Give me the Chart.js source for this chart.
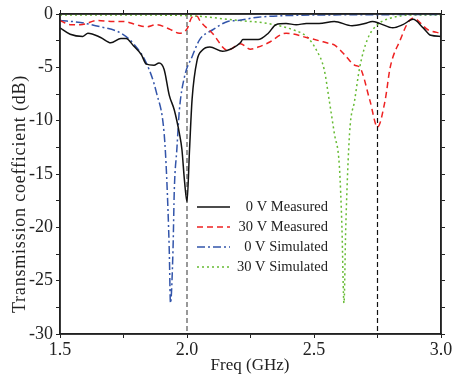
<!DOCTYPE html>
<html>
<head>
<meta charset="utf-8">
<script src="https://cdn.jsdelivr.net/npm/chart.js@4.4.1/dist/chart.umd.min.js"></script>
<style>
  html, body { margin: 0; padding: 0; background: #fff; }
  #wrap { width: 454px; height: 383px; position: relative; }
</style>
</head>
<body>
<div id="wrap"><canvas id="c" width="454" height="383"></canvas></div>
<script>
// series labels
const seriesNames = ["0 V Measured", "30 V Measured", "0 V Simulated", "30 V Simulated"];

// 0 V Measured
const m0Freq = [1.50, 1.54, 1.59, 1.61, 1.66, 1.70, 1.74, 1.76, 1.79, 1.82, 1.84, 1.87, 1.89, 1.91, 1.93, 1.95, 1.97, 1.98, 1.99, 2.00, 2.01, 2.02, 2.04, 2.06, 2.09, 2.14, 2.18, 2.21, 2.22, 2.28, 2.32, 2.35, 2.39, 2.43, 2.47, 2.52, 2.58, 2.65, 2.70, 2.73, 2.76, 2.81, 2.85, 2.89, 2.93, 2.96, 3.00];
const m0dB   = [-1.3, -1.9, -2.1, -1.8, -2.2, -2.7, -2.3, -2.3, -3.0, -3.8, -4.7, -4.8, -4.6, -5.2, -7.6, -9.0, -11.2, -12.7, -15.6, -17.6, -12.7, -8.0, -4.3, -3.4, -3.1, -3.5, -3.2, -2.7, -2.4, -2.4, -1.8, -1.0, -0.9, -1.0, -0.9, -0.9, -0.7, -1.1, -0.9, -0.7, -0.9, -1.3, -1.0, -0.5, -1.3, -2.0, -2.1];

// 30 V Measured
const m30Freq = [1.50, 1.54, 1.58, 1.65, 1.70, 1.75, 1.80, 1.84, 1.88, 1.93, 1.97, 2.00, 2.02, 2.04, 2.05, 2.10, 2.16, 2.21, 2.25, 2.28, 2.32, 2.39, 2.47, 2.55, 2.58, 2.62, 2.66, 2.68, 2.72, 2.75, 2.78, 2.80, 2.84, 2.87, 2.89, 2.95, 3.00];
const m30dB   = [-0.6, -1.0, -1.0, -0.6, -0.7, -0.7, -1.0, -1.2, -1.0, -1.4, -1.8, -1.4, -0.3, -0.2, -0.6, -1.8, -3.4, -2.8, -3.3, -3.1, -2.7, -1.8, -2.2, -2.7, -2.9, -3.8, -4.8, -5.0, -8.1, -10.6, -8.1, -5.0, -2.4, -0.8, -0.4, -1.5, -1.8];

// 0 V Simulated
const s0Freq = [1.50, 1.58, 1.66, 1.74, 1.79, 1.84, 1.88, 1.91, 1.92, 1.93, 1.935, 1.945, 1.95, 1.96, 1.97, 1.99, 2.02, 2.05, 2.10, 2.16, 2.20, 2.28, 2.39, 2.60, 3.00];
const s0dB   = [-0.6, -0.8, -1.2, -1.8, -2.8, -4.6, -7.4, -11.2, -15.3, -22.0, -27.1, -22.0, -16.5, -12.7, -9.0, -5.9, -4.0, -2.4, -1.5, -0.7, -0.6, -0.3, -0.15, -0.08, -0.05];

// 30 V Simulated
const s30Freq = [1.50, 1.80, 2.00, 2.20, 2.32, 2.42, 2.47, 2.51, 2.54, 2.56, 2.58, 2.60, 2.61, 2.618, 2.625, 2.64, 2.66, 2.68, 2.71, 2.75, 2.80, 2.88, 3.00];
const s30dB   = [-0.1, -0.1, -0.15, -0.6, -0.9, -1.5, -2.1, -3.4, -5.2, -8.1, -11.2, -14.3, -20.0, -27.1, -20.0, -11.2, -8.1, -5.0, -2.4, -1.0, -0.4, -0.1, -0.1];

// marker lines (GHz)
const markerFreqs = [2.0, 2.75];

// axis ticks
const xTickLabels = [1.5, 2.0, 2.5, 3.0];
const yTickLabels = [0, -5, -10, -15, -20, -25, -30];
const xTitle = "Freq (GHz)";
const yTitle = "Transmission coefficient (dB)";

const serif = "'Liberation Serif', 'Times New Roman', serif";
const pts = (xs, ys) => xs.map((x, i) => ({ x: x, y: ys[i] }));

const lineStyle = (color, dash) => ({
  borderColor: color,
  backgroundColor: color,
  borderWidth: 1.5,
  borderDash: dash,
  pointRadius: 0,
  fill: false,
  tension: 0,
  cubicInterpolationMode: "monotone"
});

const datasets = [
  Object.assign({ label: seriesNames[0], data: pts(m0Freq, m0dB) }, lineStyle("#111111", [])),
  Object.assign({ label: seriesNames[1], data: pts(m30Freq, m30dB) }, lineStyle("#ee2222", [6, 4])),
  Object.assign({ label: seriesNames[2], data: pts(s0Freq, s0dB) }, lineStyle("#3355aa", [8, 3, 2, 3])),
  Object.assign({ label: seriesNames[3], data: pts(s30Freq, s30dB) }, lineStyle("#66bb33", [2, 3]))
];
markerFreqs.forEach((f, i) => {
  datasets.push({
    label: "marker",
    data: [{ x: f, y: 0 }, { x: f, y: -30 }],
    borderColor: i === 0 ? "#555555" : "#111111",
    borderWidth: 1.2,
    borderDash: [5, 3],
    pointRadius: 0,
    fill: false
  });
});

// custom legend + axis titles, drawn by hand
const legendPlugin = {
  id: "innerLegend",
  afterDatasetsDraw(chart) {
    const ctx = chart.ctx;
    ctx.save();
    ctx.font = "14.5px " + serif;
    ctx.textAlign = "right";
    ctx.textBaseline = "middle";
    ctx.fillStyle = "#222";
    for (let i = 0; i < 4; i++) {
      const ds = chart.data.datasets[i];
      const y = 207 + i * 20;
      ctx.strokeStyle = ds.borderColor;
      ctx.lineWidth = 1.5;
      ctx.setLineDash(ds.borderDash);
      ctx.beginPath();
      ctx.moveTo(197, y);
      ctx.lineTo(230, y);
      ctx.stroke();
      ctx.setLineDash([]);
      ctx.fillText(ds.label, 328, y);
    }
    // frame
    const a = chart.chartArea;
    ctx.strokeStyle = "#222";
    ctx.lineWidth = 1.5;
    ctx.strokeRect(a.left, a.top, a.right - a.left, a.bottom - a.top);

    // titles
    ctx.textAlign = "center";
    ctx.font = "17px " + serif;
    ctx.fillText(xTitle, 250, 366);
    ctx.translate(20, 194);
    ctx.rotate(-Math.PI / 2);
    ctx.font = "18px " + serif;
    ctx.letterSpacing = "0.8px";
    ctx.fillText(yTitle, 0, 0);
    ctx.restore();
  }
};

const tickCommon = { color: "#222", font: { family: serif, size: 18 } };
const gridCommon = { drawOnChartArea: false, drawTicks: true, tickLength: 4, color: "#222", tickColor: "#222" };

new Chart(document.getElementById("c"), {
  type: "line",
  data: { datasets: datasets },
  options: {
    responsive: false,
    animation: false,
    layout: { padding: 0 },
    plugins: { legend: { display: false }, tooltip: { enabled: false } },
    scales: {
      x: {
        type: "linear", position: "bottom", min: 1.5, max: 3.0,
        afterFit: s => { s.height = 49; },
        border: { color: "#222", width: 1.5 },
        grid: gridCommon,
        ticks: Object.assign({}, tickCommon, {
          stepSize: 0.25, maxRotation: 0, padding: 1, autoSkip: false,
          callback: v => xTickLabels.some(t => Math.abs(t - v) < 1e-6) ? v.toFixed(1) : ""
        })
      },
      x2: {
        type: "linear", position: "top", min: 1.5, max: 3.0,
        afterFit: s => { s.height = 14; },
        border: { color: "#222", width: 1.5 },
        grid: gridCommon,
        ticks: { stepSize: 0.25, display: false }
      },
      y: {
        type: "linear", position: "left", min: -30, max: 0,
        afterFit: s => { s.width = 60; },
        border: { color: "#222", width: 1.5 },
        grid: gridCommon,
        ticks: Object.assign({}, tickCommon, {
          stepSize: 2.5, padding: 3, autoSkip: false,
          callback: v => yTickLabels.includes(v) ? String(v) : ""
        })
      },
      y2: {
        type: "linear", position: "right", min: -30, max: 0,
        afterFit: s => { s.width = 13; },
        border: { color: "#222", width: 1.5 },
        grid: gridCommon,
        ticks: { stepSize: 2.5, display: false }
      }
    }
  },
  plugins: [legendPlugin]
});
</script>
</body>
</html>
